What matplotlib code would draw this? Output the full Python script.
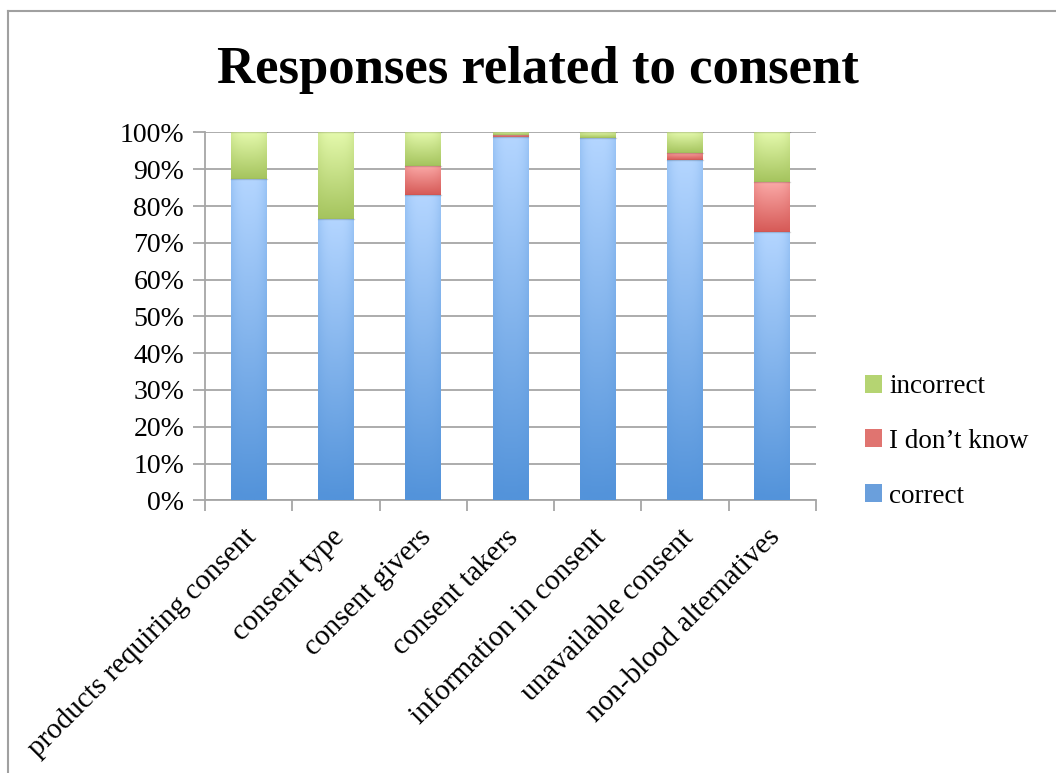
import numpy as np
import matplotlib
matplotlib.use("Agg")
import matplotlib.pyplot as plt
from matplotlib.colors import LinearSegmentedColormap
from matplotlib.patches import Patch
from matplotlib.lines import Line2D

categories = ["products requiring consent", "consent type", "consent givers",
              "consent takers", "information in consent", "unavailable consent",
              "non-blood alternatives"]
correct = [87.3, 76.5, 82.9, 98.8, 98.4, 92.4, 72.9]
dont_know = [0.0, 0.0, 7.9, 0.4, 0.0, 2.1, 13.6]
incorrect = [12.7, 23.5, 9.2, 0.8, 1.6, 5.5, 13.5]
series_names = ["correct", "I don\u2019t know", "incorrect"]
yticks = [0, 10, 20, 30, 40, 50, 60, 70, 80, 90, 100]

plt.rcParams["font.family"] = ["Liberation Serif", "DejaVu Serif"]

# (top colour, bottom colour, legend colour) for each series
shades = [("#b3d5ff", "#5393da", "#6a9fdc"),
          ("#fbaaa8", "#d65a57", "#e07470"),
          ("#e4f9ac", "#a5c45e", "#b5d472")]

fig = plt.figure(figsize=(10.56, 7.73), dpi=100)
ax = fig.add_axes([0.1941, 0.3528, 0.5786, 0.4758])

x = np.arange(len(categories))
width = 0.41
bottom = np.zeros(len(categories))
for vals, (top_c, bot_c, _) in zip([correct, dont_know, incorrect], shades):
    vals = np.array(vals)
    bars = ax.bar(x, vals, width, bottom=bottom, color=bot_c,
                  edgecolor="none", zorder=3)
    cmap = LinearSegmentedColormap.from_list("g", [bot_c, top_c])
    for b, v, b0 in zip(bars, vals, bottom):
        if v <= 0:
            continue
        x0 = b.get_x()
        grad = np.linspace(0, 1, 64).reshape(-1, 1)
        horiz = 1 - 0.25 * np.abs(np.linspace(-1, 1, 32)) ** 3
        img = grad * horiz
        im = ax.imshow(img, cmap=cmap, vmin=0, vmax=1, origin="lower",
                       extent=(x0, x0 + width, b0, b0 + v),
                       aspect="auto", zorder=4, interpolation="bilinear")
        im.set_clip_path(b)
        ax.plot([x0, x0 + width], [b0 + v, b0 + v], color="#000000",
                alpha=0.15, lw=1, zorder=5)
    bottom = bottom + vals

ax.set_xlim(-0.5, len(categories) - 0.5)
ax.set_ylim(0, 100)
ax.set_yticks(yticks)
ax.set_yticklabels([f"{t}%" for t in yticks], fontsize=20)
ax.yaxis.grid(True, color="#a6a6a6", lw=1.3, zorder=0)
ax.set_axisbelow(True)

ax.set_xticks(np.arange(len(categories) + 1) - 0.5, minor=False)
ax.set_xticklabels([])
ax.tick_params(axis="x", length=8, color="#a6a6a6", width=1.3, direction="out")
ax.tick_params(axis="y", length=9, color="#a6a6a6", width=1.3, pad=6)
for i, c in enumerate(categories):
    ax.text(i - 0.06, -6.5, c, rotation=45, rotation_mode="anchor",
            ha="right", va="top", fontsize=21, transform=ax.transData)

for s in ["top", "right"]:
    ax.spines[s].set_visible(False)
for s in ["left", "bottom"]:
    ax.spines[s].set_color("#a6a6a6")
    ax.spines[s].set_linewidth(1.3)

fig.text(0.509, 0.91, "Responses related to consent", ha="center",
         va="center", fontsize=38, fontweight="bold")

handles = [Patch(facecolor=sh[2], edgecolor="none") for sh in shades][::-1]
ax.legend(handles, series_names[::-1], loc="center left",
          bbox_to_anchor=(1.04, 0.16), frameon=False, fontsize=19.5,
          handlelength=0.65, handleheight=0.65, handletextpad=0.25,
          labelspacing=1.1)

# chart frame
fig.add_artist(Line2D([8 / 1056, 1], [1 - 11 / 773] * 2, color="#a0a0a0",
                      lw=1.5, transform=fig.transFigure))
fig.add_artist(Line2D([8 / 1056] * 2, [0, 1 - 11 / 773], color="#a0a0a0",
                      lw=1.5, transform=fig.transFigure))

fig.savefig("out.png", dpi=100)
